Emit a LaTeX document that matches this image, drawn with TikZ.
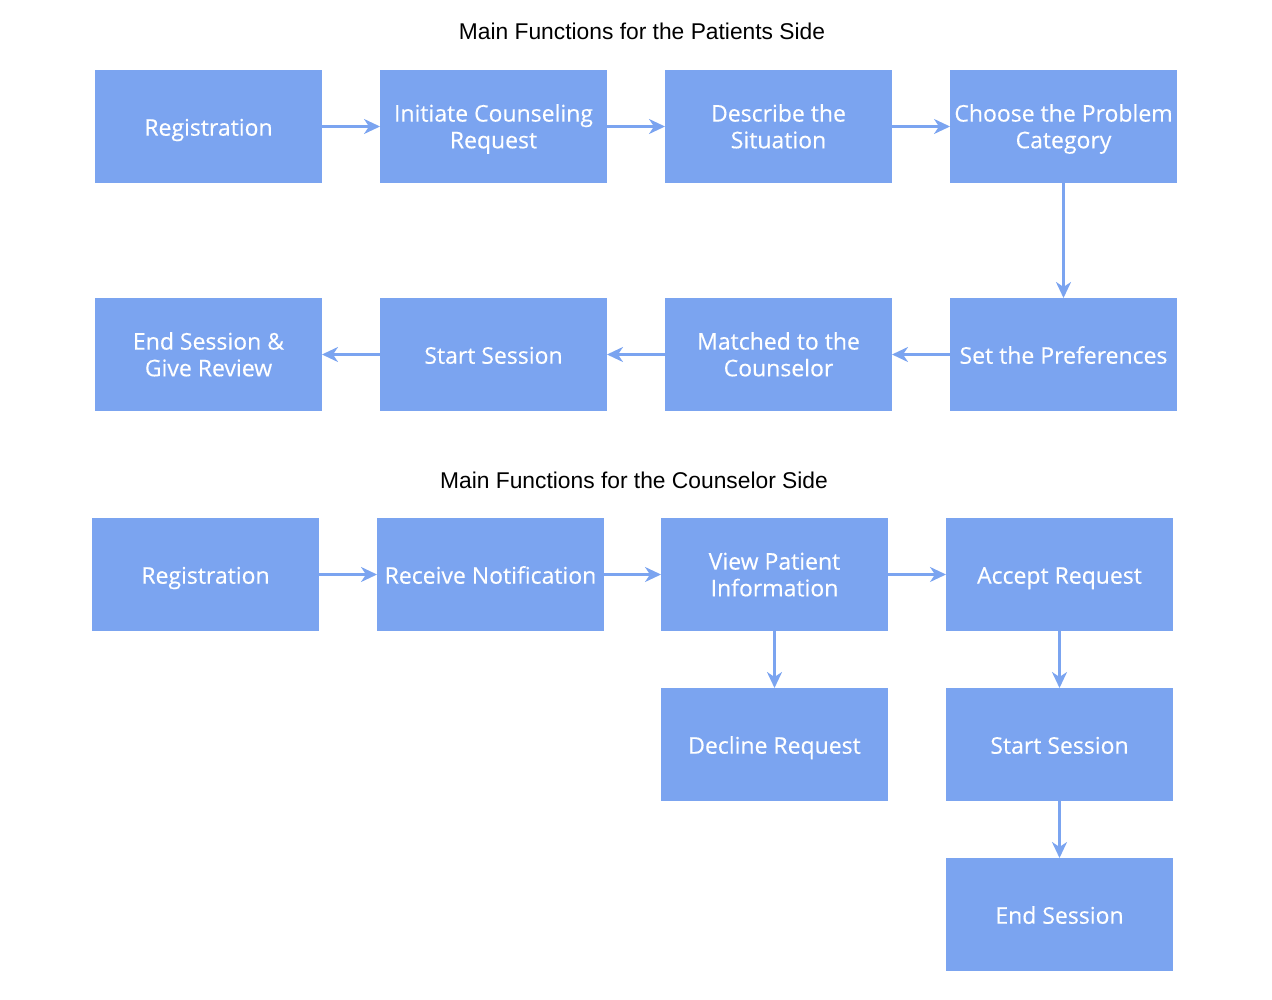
\documentclass[tikz,border=0pt]{standalone}
\usepackage{fontspec}
\setmainfont{Open Sans}[RawFeature={embolden=0.3}]
\newfontfamily\titlefont{Liberation Sans}
\usetikzlibrary{shapes,arrows.meta,positioning}
\definecolor{boxblue}{RGB}{123,164,240}

\begin{document}
\begin{tikzpicture}[x=1pt, y=1pt, node distance = 58pt and 58pt]
	% % % % % % % % % % % % % % % % % % % % % % % % % % % % % %
	% Define styles
	\tikzstyle{block} = [rectangle, fill=boxblue, text=white, align=center, 
					     minimum width=227pt, minimum height=113pt, inner sep=0pt, outer sep=0pt,
					     font=\fontsize{23}{26.7}\selectfont, text height=24.4pt, text depth=6pt]
	\tikzstyle{twoline} = [text height=49.6pt]
	\tikzstyle{line} = [draw=boxblue, -{Stealth[length=16pt, width=15pt, inset=5pt]}, line width=2.5pt]
	\tikzstyle{title} = [font=\titlefont\fontsize{22.8}{27}\selectfont]
	\useasboundingbox (0,0) rectangle (1272,-1000);
	
	% % % % % % % % % % % % % % % % % % % % % % % % % % % % % %
	% Place nodes
	% patients side
	\node [title] (ptitle) at (642,-31) {Main Functions for the Patients Side};
	% first row
	\node [block] (preg) at (208.5,-126.5) {Registration};
	\node [block, twoline, right=of preg] (pinit) {Initiate Counseling\\Request};
	\node [block, twoline, right=of pinit] (pdesc) {Describe the\\Situation};
	\node [block, twoline, right=of pdesc] (pcat) {Choose the Problem\\Category};
	% second row
	\node [block, below=115pt of pcat] (ppref) {Set the Preferences};
	\node [block, twoline, left=of ppref] (pmatch) {Matched to the\\Counselor};
	\node [block, left=of pmatch] (pstart) {Start Session};
	\node [block, twoline, left=of pstart] (pend) {End Session \&\\Give Review};
	
	% counselor side
	\node [title] (ctitle) at (634,-480) {Main Functions for the Counselor Side};
	\node [block] (creg) at (205.5,-574.5) {Registration};
	\node [block, right=of creg] (cnotif) {Receive Notification};
	\node [block, twoline, right=57pt of cnotif] (cview) {View Patient\\Information};
	\node [block, right=of cview] (cacc) {Accept Request};
	% branches down
	\node [block, below=57pt of cview] (cdecl) {Decline Request};
	\node [block, below=57pt of cacc] (cstart) {Start Session};
	\node [block, below=57pt of cstart] (cend) {End Session};
	
	% Draw edges
	\path [line] (preg) -- (pinit);
	\path [line] (pinit) -- (pdesc);
	\path [line] (pdesc) -- (pcat);
	\path [line] (pcat) -- (ppref);
	% %
	\path [line] (ppref) -- (pmatch);
	\path [line] (pmatch) -- (pstart);
	\path [line] (pstart) -- (pend);
	% % counselor
	\path [line] (creg) -- (cnotif);
	\path [line] (cnotif) -- (cview);
	\path [line] (cview) -- (cacc);
	\path [line] (cview) -- (cdecl);
	\path [line] (cacc) -- (cstart);
	\path [line] (cstart) -- (cend);
\end{tikzpicture}
\end{document}
